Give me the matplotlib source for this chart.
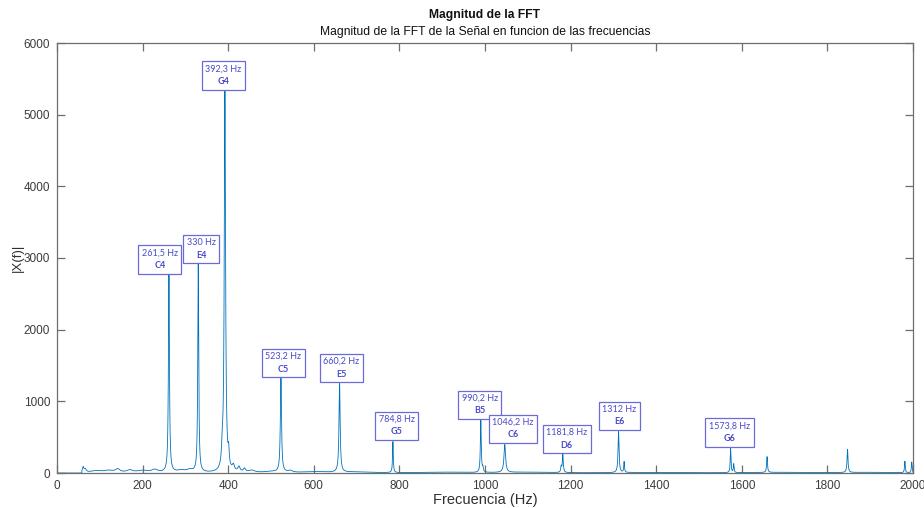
import numpy as np
import matplotlib
matplotlib.use("Agg")
import matplotlib.pyplot as plt
from matplotlib.offsetbox import TextArea, VPacker, AnnotationBbox

# Labelled spectral peaks: frequency (Hz), magnitude, note name
peak_freqs = [261.5, 330.0, 392.3, 523.2, 660.2, 784.8, 990.2, 1046.2, 1181.8, 1312.0, 1573.8]
peak_mags = [2750, 2900, 5320, 1310, 1240, 432, 725, 390, 250, 572, 335]
peak_widths = [1.4, 1.3, 1.8, 1.6, 1.6, 1.0, 1.2, 2.2, 1.3, 1.4, 1.0]
peak_labels = ["261,5 Hz", "330 Hz", "392,3 Hz", "523,2 Hz", "660,2 Hz", "784,8 Hz",
               "990,2 Hz", "1046,2 Hz", "1181,8 Hz", "1312 Hz", "1573,8 Hz"]
peak_notes = ["C4", "E4", "G4", "C5", "E5", "G5", "B5", "C6", "D6", "E6", "G6"]

# Unlabelled secondary peaks
extra_freqs = [1325.0, 1581.0, 1659.0, 1847.0, 1981.0, 1997.0, 1178.0, 995.0, 401.0, 386.0]
extra_mags = [150, 120, 220, 325, 160, 150, 80, 60, 200, 250]
extra_widths = [1.0, 1.0, 1.2, 1.3, 1.0, 1.0, 1.2, 1.2, 1.5, 1.5]

# Low-level noise floor bumps
floor_freqs = [61, 66, 90, 120, 142, 170, 200, 228, 290, 310, 412, 425, 438, 455, 500, 545, 600, 700, 900, 1100, 1400, 1700, 1900]
floor_mags = [70, 45, 25, 30, 45, 35, 30, 40, 30, 35, 80, 70, 50, 30, 15, 25, 15, 12, 10, 10, 8, 8, 8]
floor_widths = [2, 3, 15, 15, 6, 8, 15, 8, 12, 8, 3, 3, 3, 8, 20, 6, 30, 40, 60, 60, 80, 80, 60]

low_cut = 58.0
x_ticks = list(range(0, 2001, 200))
y_ticks = list(range(0, 6001, 1000))
label_dx_px = [-9, 3, -1.5, 2.5, 2, 4, -1, 8, 4, 1, -1]

freq = np.round(np.arange(0, 2000.0001, 0.1), 1)
mag = np.zeros_like(freq)
for fs, ms, ws in ((peak_freqs, peak_mags, peak_widths),
                   (extra_freqs, extra_mags, extra_widths),
                   (floor_freqs, floor_mags, floor_widths)):
    for f0, m0, w0 in zip(fs, ms, ws):
        mag += m0 / (1.0 + ((freq - f0) / w0) ** 2)
mag[freq < low_cut] = 0.0

W, H, DPI = 924, 508, 100
fig = plt.figure(figsize=(W / DPI, H / DPI), dpi=DPI)
ax = fig.add_axes([57 / W, 1 - 473 / H, (913 - 57) / W, (473 - 43) / H])

ax.plot(freq, mag, color="#0072BD", lw=0.6)
ax.set_xlim(0, 2000)
ax.set_ylim(0, 6000)
ax.set_xticks(x_ticks)
ax.set_yticks(y_ticks)

tick_font = "Liberation Sans"
axis_col = "#6e6e6e"
for s in ax.spines.values():
    s.set_color(axis_col)
    s.set_linewidth(0.9)
ax.tick_params(direction="in", length=6, width=0.9, color=axis_col,
               top=True, right=True, labelsize=8.5, labelcolor="#3c3c3c", pad=5)
for lab in ax.get_xticklabels() + ax.get_yticklabels():
    lab.set_fontfamily(tick_font)

ax.set_xlabel("Frecuencia (Hz)", fontfamily=tick_font, fontsize=10.5, color="#303030", labelpad=1)
ax.set_ylabel("|X(f)|", fontfamily=tick_font, fontsize=9.5, color="#303030", labelpad=0)

fig.text(0.5 * (57 + 913) / W, 1 - 15 / H, "Magnitud de la FFT", ha="center", va="center",
         fontfamily=tick_font, fontweight="bold", fontsize=8.7, color="#111111")
fig.text(0.5 * (57 + 913) / W, 1 - 32 / H, "Magnitud de la FFT de la Señal en funcion de las frecuencias",
         ha="center", va="center", fontfamily=tick_font, fontsize=8.7, color="#111111")

txt_col = "#4a4ac8"
box_col = "#6a6ad8"
for f0, m0, lab, note, dx in zip(peak_freqs, peak_mags, peak_labels, peak_notes, label_dx_px):
    t1 = TextArea(lab, textprops=dict(fontfamily="Lato", fontsize=6.5, color=txt_col))
    t2 = TextArea(note, textprops=dict(fontfamily="Lato", fontsize=6.5, color=txt_col, fontweight="bold"))
    pack = VPacker(children=[t1, t2], align="center", pad=0, sep=2.5)
    ab = AnnotationBbox(pack, (f0, m0), xybox=(dx * 0.72, 4.0), xycoords="data",
                        boxcoords="offset points", box_alignment=(0.5, 0.0),
                        pad=0.25, frameon=True,
                        bboxprops=dict(edgecolor=box_col, facecolor="white", lw=0.9))
    ax.add_artist(ab)

fig.savefig("out.png", dpi=DPI)
